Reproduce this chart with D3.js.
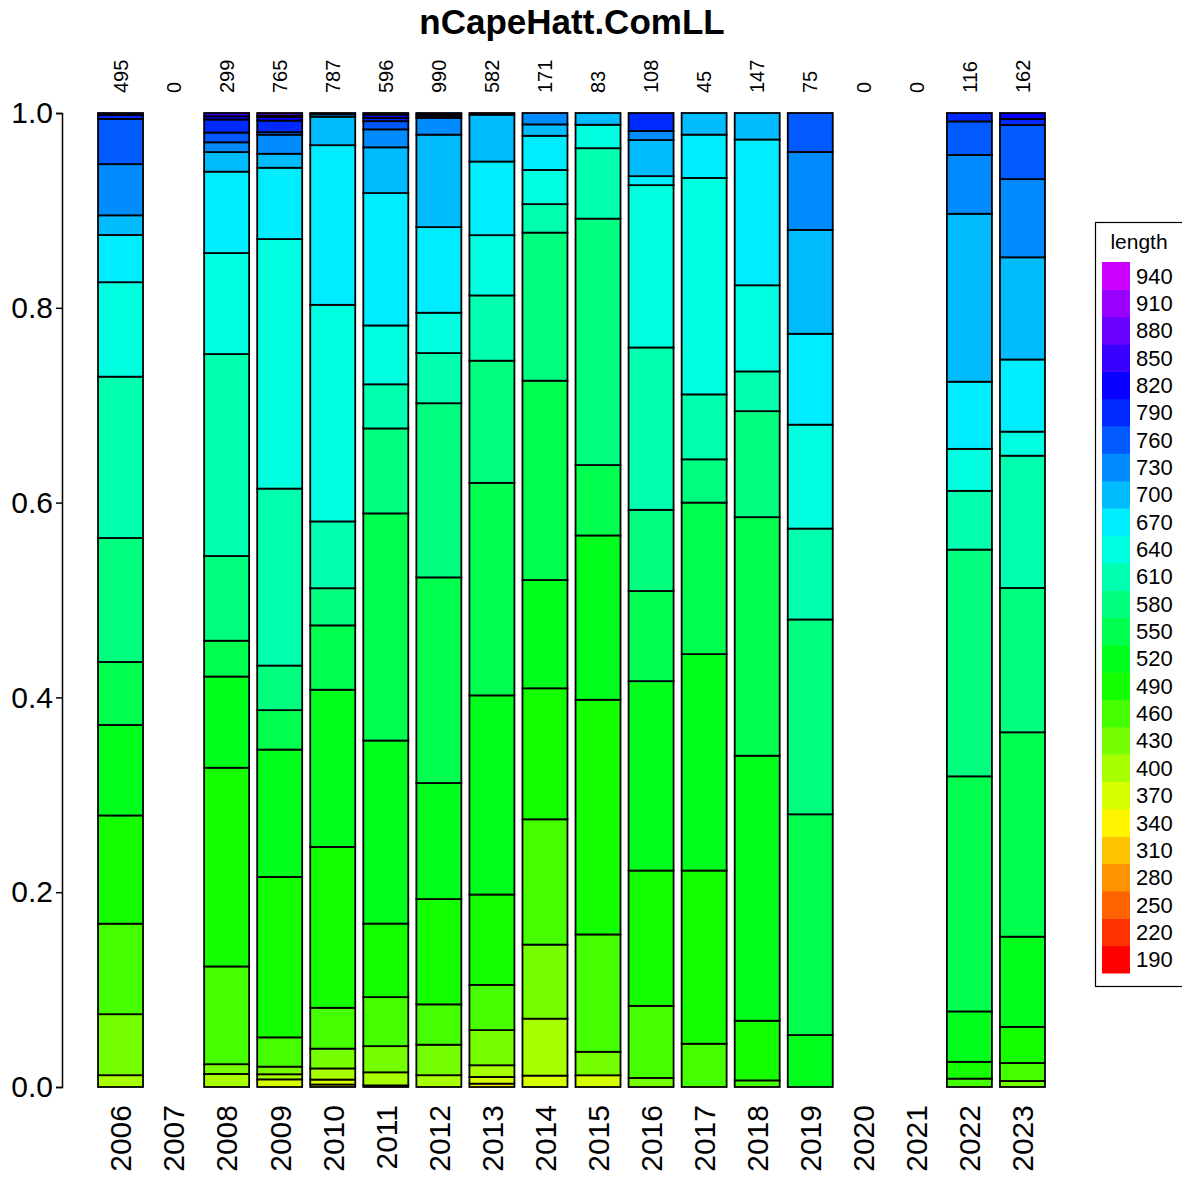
<!DOCTYPE html>
<html>
<head>
<meta charset="utf-8">
<script src="https://cdn.jsdelivr.net/npm/d3@7"></script>
<style>
  html, body { margin: 0; padding: 0; background: #fff; }
  svg { display: block; font-family: "Liberation Sans", Arial, sans-serif; }
</style>
</head>
<body>
<svg id="chart" width="1182" height="1177"></svg>
<script>
// ---- data ----
const chartTitle = "nCapeHatt.ComLL";
const legendTitle = "length";
const years = ["2006","2007","2008","2009","2010","2011","2012","2013","2014","2015","2016","2017","2018","2019","2020","2021","2022","2023"];
const sampleSizes = [495,0,299,765,787,596,990,582,171,83,108,45,147,75,0,0,116,162];
const lengthBins = [190,220,250,280,310,340,370,400,430,460,490,520,550,580,610,640,670,700,730,760,790,820,850,880,910,940];
const yTicks = [0, 0.2, 0.4, 0.6, 0.8, 1.0];

// counts per length bin (190 ... 940) for each year
const counts2006 = [0,0,0,0,0,0,0,6,31,46,55,46,32,63,82,48,24,10,26,23,2,1,0,0,0,0];
const counts2007 = [0,0,0,0,0,0,0,0,0,0,0,0,0,0,0,0,0,0,0,0,0,0,0,0,0,0];
const counts2008 = [0,0,0,0,0,0,0,4,3,30,61,28,11,26,62,31,25,6,3,3,4,1,1,0,0,0];
const counts2009 = [0,0,0,0,0,0,6,4,6,23,126,100,31,35,139,196,56,11,15,2,9,3,1,2,0,0];
const counts2010 = [0,0,0,0,0,2,4,9,16,33,130,127,52,30,54,175,129,23,2,1,0,0,0,0,0,0];
const counts2011 = [0,0,0,0,0,0,1,8,16,30,45,112,139,52,27,36,81,28,11,5,2,2,1,0,0,0];
const counts2012 = [0,0,0,0,0,0,0,12,31,41,107,118,209,177,51,41,87,94,17,2,2,1,0,0,0,0];
const counts2013 = [0,0,0,0,0,2,4,7,21,27,54,119,127,73,39,36,44,28,1,0,0,0,0,0,0,0];
const counts2014 = [0,0,0,0,0,0,2,10,13,22,23,19,35,26,5,6,6,2,2,0,0,0,0,0,0,0];
const counts2015 = [0,0,0,0,0,0,1,0,2,10,20,14,6,21,6,2,0,1,0,0,0,0,0,0,0,0];
const counts2016 = [0,0,0,0,0,0,0,0,1,8,15,21,10,9,18,18,1,4,1,0,2,0,0,0,0,0];
const counts2017 = [0,0,0,0,0,0,0,0,0,2,8,10,7,2,3,10,2,1,0,0,0,0,0,0,0,0];
const counts2018 = [0,0,0,0,0,0,0,0,0,1,9,40,36,16,6,13,22,4,0,0,0,0,0,0,0,0];
const counts2019 = [0,0,0,0,0,0,0,0,0,0,0,4,17,15,7,8,7,8,6,3,0,0,0,0,0,0];
const counts2020 = [0,0,0,0,0,0,0,0,0,0,0,0,0,0,0,0,0,0,0,0,0,0,0,0,0,0];
const counts2021 = [0,0,0,0,0,0,0,0,0,0,0,0,0,0,0,0,0,0,0,0,0,0,0,0,0,0];
const counts2022 = [0,0,0,0,0,0,0,0,0,1,2,6,28,27,7,5,8,20,7,4,1,0,0,0,0,0];
const counts2023 = [0,0,0,0,0,0,0,0,1,3,6,15,34,24,22,4,12,17,13,9,1,1,0,0,0,0];

const countsByYear = [counts2006,counts2007,counts2008,counts2009,counts2010,counts2011,counts2012,counts2013,counts2014,counts2015,counts2016,counts2017,counts2018,counts2019,counts2020,counts2021,counts2022,counts2023];

// ---- build table ----
const table = years.map((y, i) => {
  const row = { year: y };
  lengthBins.forEach((b, j) => { row[b] = countsByYear[i][j]; });
  return row;
});

const svg = d3.select("#chart");

const x = d3.scaleBand().domain(years).range([94, 1049]).paddingInner(0.152).paddingOuter(0.076);
const y = d3.scaleLinear().domain([0, 1]).range([1087, 113]);
const color = d3.scaleOrdinal().domain(lengthBins)
  .range(lengthBins.map((b, i) => d3.hsl(i * 288 / (lengthBins.length - 1), 1, 0.5).formatHex()));

const stack = d3.stack().keys(lengthBins).offset(d3.stackOffsetExpand);
const series = stack(table);

// bars
const g = svg.append("g");
series.forEach(s => {
  g.selectAll(null)
    .data(s.filter(d => d[1] - d[0] > 0))
    .join("rect")
    .attr("x", d => x(d.data.year))
    .attr("width", x.bandwidth())
    .attr("y", d => y(d[1]))
    .attr("height", d => y(d[0]) - y(d[1]))
    .attr("fill", color(s.key))
    .attr("stroke", "#000")
    .attr("stroke-width", 1.8);
});

// y axis
const yAxis = d3.axisLeft(y).tickValues(yTicks).tickFormat(d3.format(".1f")).tickSize(6).tickPadding(3);
const ya = svg.append("g").attr("transform", "translate(62,0)").call(yAxis);
ya.select(".domain").attr("stroke", "#000").attr("stroke-width", 1.5);
ya.selectAll(".tick line").attr("stroke", "#000").attr("stroke-width", 1.5);
ya.selectAll(".tick text").attr("font-size", 30).attr("fill", "#000")
  .attr("font-family", "Liberation Sans, Arial, sans-serif");

// year labels
svg.append("g").selectAll("text")
  .data(years)
  .join("text")
  .attr("transform", d => `translate(${x(d) + x.bandwidth() / 2},1105) rotate(-90)`)
  .attr("text-anchor", "end")
  .attr("dy", "0.36em")
  .attr("font-size", 30)
  .text(d => d);

// sample size labels
svg.append("g").selectAll("text")
  .data(years)
  .join("text")
  .attr("transform", (d, i) => `translate(${x(d) + x.bandwidth() / 2},93) rotate(-90)`)
  .attr("text-anchor", "start")
  .attr("dy", "0.36em")
  .attr("font-size", 20)
  .text((d, i) => sampleSizes[i]);

// title
svg.append("text")
  .attr("x", 572).attr("y", 34)
  .attr("text-anchor", "middle")
  .attr("font-size", 35)
  .attr("font-weight", "bold")
  .text(chartTitle);

// legend
const lg = svg.append("g");
lg.append("rect").attr("x", 1095.5).attr("y", 222.5).attr("width", 100).attr("height", 764)
  .attr("fill", "#fff").attr("stroke", "#000").attr("stroke-width", 1.2);
lg.append("text").attr("x", 1139).attr("y", 249).attr("text-anchor", "middle")
  .attr("font-size", 21).text(legendTitle);
const ly = d3.scaleBand().domain(lengthBins.slice().reverse()).range([262, 973]);
lg.selectAll(".sw").data(lengthBins).join("rect")
  .attr("x", 1102).attr("width", 28)
  .attr("y", d => ly(d)).attr("height", ly.bandwidth() + 0.5)
  .attr("fill", d => color(d));
lg.selectAll(".lb").data(lengthBins).join("text")
  .attr("x", 1136)
  .attr("y", d => ly(d) + ly.bandwidth() / 2)
  .attr("dy", "0.36em")
  .attr("font-size", 22)
  .text(d => d);
</script>
</body>
</html>
